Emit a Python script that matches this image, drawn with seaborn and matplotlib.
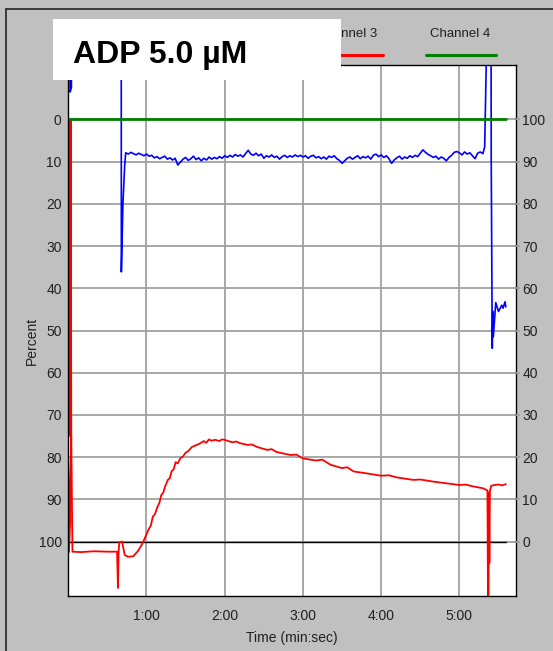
import numpy as np
import pandas as pd
import matplotlib
matplotlib.use("Agg")
import matplotlib.pyplot as plt
from matplotlib.lines import Line2D
from matplotlib.patches import Rectangle
import seaborn as sns

# Aggregometer trace, ADP 5.0 uM (time in seconds, value in "Percent" of left axis)
red_t = [0.9, 1.5, 2.1, 2.5, 0.8, 2.5, 3.4, 10, 20, 30, 37.6, 38.3, 38.8, 39.3, 41.4, 43.5,
         46, 50, 53.5, 57, 60, 62, 63.5, 65, 66.5, 68.7, 70, 71.5, 73, 74.5, 76.5, 78, 79.5,
         81, 82.5, 84.1, 86, 88, 90, 92, 95, 98, 101.6, 104, 106, 108, 110, 113, 116, 118,
         120, 126, 129, 132, 137.5, 141, 145, 152.8, 156, 160, 170.6, 175, 180, 190, 195,
         201.2, 210, 214, 219, 230, 240, 246, 252, 264.8, 270, 280, 290, 300, 305, 310,
         318.4, 321.5, 322.2, 322.6, 323.0, 323.4, 324.4, 327, 330, 333, 335.6]
red_v = [0, 75, 0, 75, 102.4, 75, 102.4, 102.5, 102.3, 102.4, 102.4, 111, 102.6, 100.2, 100,
         103.2, 103.6, 103.5, 102.3, 100.5, 98.4, 97.0, 96.2, 94.1, 93.6, 91.7, 90.9, 89.0,
         88.4, 86.9, 85.4, 85.0, 83.3, 82.9, 81.2, 81.5, 80.3, 79.9, 79.0, 78.6, 77.6, 77.2,
         76.7, 76.2, 76.6, 75.8, 76.1, 75.9, 76.2, 75.8, 75.9, 76.5, 76.3, 76.7, 77.1, 77.0,
         77.6, 78.3, 78.1, 78.8, 79.5, 79.4, 80.3, 80.8, 80.6, 81.8, 82.6, 82.4, 83.4, 83.9,
         84.4, 84.3, 84.8, 85.4, 85.3, 85.8, 86.2, 86.6, 86.5, 86.9, 87.4, 87.9, 130, 88.4,
         105, 88, 86.8, 86.6, 86.5, 86.7, 86.4]

blue_start_t = [1.2, 1.6, 2.6, 2.8, 40.8, 40.9, 42.1, 43.4]
blue_start_v = [-20, -6.5, -7.5, -20, -20, 36.1, 19.9, 11.2]
blue_plateau_v = [7.9, 8.2, 7.8, 8.1, 8.4, 8.0, 8.3, 8.6, 8.2, 8.7, 8.5, 9.1, 8.8, 9.3, 9.0,
                  8.7, 9.4, 9.1, 9.6, 9.2, 10.8, 10.1, 9.4, 9.0, 9.7, 9.3, 8.7, 9.5, 9.1, 9.8,
                  9.2, 9.6, 8.9, 9.4, 9.0, 9.3, 8.8, 9.2, 8.6, 9.0, 8.5, 8.9, 8.3, 8.7, 8.4,
                  8.9, 8.1, 7.3, 8.2, 8.5, 8.0, 8.6, 8.2, 9.2, 8.6, 8.9, 8.4, 9.0, 8.7, 9.4,
                  8.8, 8.5, 9.0, 8.6, 8.9, 8.4, 8.8, 8.5, 8.9, 8.6, 9.2, 8.7, 8.5, 9.1, 8.8,
                  9.3, 8.9, 9.4, 8.7, 9.0, 8.6, 9.3, 9.7, 10.4, 9.8, 9.2, 8.9, 9.4, 9.0, 8.6,
                  9.3, 8.8, 9.1, 8.7, 9.4, 8.5, 8.2, 8.8, 8.4, 9.0, 8.6, 9.3, 10.4, 9.6, 9.1,
                  8.7, 9.4, 8.9, 9.2, 8.6, 9.0, 8.5, 8.8, 8.0, 7.2, 7.8, 8.3, 8.6, 9.0, 8.7,
                  9.4, 8.9, 9.2, 9.8, 9.0, 8.5, 7.8, 7.6, 7.9, 8.4, 7.7, 8.2, 7.9, 8.6, 9.3,
                  8.0, 7.7, 8.1]
blue_end_t = [319.4, 321.0, 324.3, 324.4, 325.2, 325.6, 326.0, 327.9, 330.0, 332.5, 333.5,
              335.0, 335.6]
blue_end_v = [6.5, -20, -20, 8.9, 54.2, 45.5, 51.5, 43.4, 45.5, 44.0, 44.7, 43.2, 44.4]

green_t = [0, 335.6]
green_v = [0, 0]
baseline_t = [0, 335.6]
baseline_v = [100, 100]

x_ticks = [60, 120, 180, 240, 300]
x_labels = ["1:00", "2:00", "3:00", "4:00", "5:00"]
left_ticks = list(range(0, 101, 10))
right_labels = [str(100 - v) for v in left_ticks]

blue_t = blue_start_t + list(np.linspace(44.2, 318.0, len(blue_plateau_v))) + blue_end_t
blue_v = blue_start_v + blue_plateau_v + blue_end_v

red_df = pd.DataFrame({"t": red_t, "v": red_v})
blue_df = pd.DataFrame({"t": blue_t, "v": blue_v})
green_df = pd.DataFrame({"t": green_t, "v": green_v})
base_df = pd.DataFrame({"t": baseline_t, "v": baseline_v})

sns.set_style("white")
plt.rcParams["font.family"] = ["Liberation Sans", "DejaVu Sans"]

W, H = 553, 651
fig = plt.figure(figsize=(W / 100, H / 100), dpi=100, facecolor="#C0C0C0")
ax = fig.add_axes([68 / W, 1 - 596 / H, (516 - 68) / W, (596 - 65) / H])
ax.set_facecolor("white")

grid_c = "#A0A0A0"
for gx in x_ticks:
    ax.axvline(gx, color=grid_c, lw=1.3, zorder=0)
for gy in left_ticks:
    ax.axhline(gy, color=grid_c, lw=1.3, zorder=0)

sns.lineplot(data=base_df, x="t", y="v", ax=ax, color="black", lw=1.0, sort=False, estimator=None)
sns.lineplot(data=red_df, x="t", y="v", ax=ax, color="#FF0000", lw=1.3, sort=False, estimator=None)
sns.lineplot(data=blue_df, x="t", y="v", ax=ax, color="#0000FF", lw=1.2, sort=False, estimator=None)
sns.lineplot(data=green_df, x="t", y="v", ax=ax, color="#008000", lw=2.0, sort=False, estimator=None)

ax.set_xlim(0, 343.4)
ax.set_ylim(112.9, -12.9)
ax.set_xticks(x_ticks)
ax.set_xticklabels(x_labels)
ax.set_yticks(left_ticks)
ax.set_yticklabels([str(v) for v in left_ticks])
ax.tick_params(axis="x", length=0, pad=9, labelsize=10, colors="#202020")
ax.tick_params(axis="y", length=0, pad=4.5, labelsize=10, colors="#202020")
ax.set_xlabel("Time (min:sec)", fontsize=10, color="#202020")
ax.xaxis.set_label_coords(0.5, (596 - 638) / 531)
ax.xaxis.label.set_va("center")
ax.set_ylabel("Percent", fontsize=10, color="#202020")
ax.yaxis.set_label_coords((32 - 68) / 448, (596 - 341) / 531)
ax.yaxis.label.set_va("center")
for s in ax.spines.values():
    s.set_color("black")
    s.set_linewidth(1.0)

ax2 = ax.twinx()
ax2.set_ylim(-12.9, 112.9)
ax2.set_yticks(left_ticks)
ax2.set_yticklabels(right_labels[::-1])
ax2.tick_params(axis="y", length=3, width=1.3, color=grid_c, pad=1.5, labelsize=10,
                labelcolor="#202020")
for s in ax2.spines.values():
    s.set_visible(False)

# outer frame
fig.add_artist(Line2D([6 / W, 6 / W], [0, 1 - 8.5 / H], color="#303030", lw=1.3,
                      transform=fig.transFigure))
fig.add_artist(Line2D([6 / W, 1], [1 - 8.5 / H, 1 - 8.5 / H], color="#303030", lw=1.3,
                      transform=fig.transFigure))

# channel legend
fig.text(347 / W, 1 - 34 / H, "Channel 3", ha="center", va="center", fontsize=9.5,
         color="#202020", zorder=5)
fig.add_artist(Line2D([313 / W, 383 / W], [1 - 55 / H, 1 - 55 / H], color="#FF0000", lw=2.2,
                      transform=fig.transFigure, zorder=5))
fig.text(460 / W, 1 - 34 / H, "Channel 4", ha="center", va="center", fontsize=9.5,
         color="#202020", zorder=5)
fig.add_artist(Line2D([426 / W, 496 / W], [1 - 55 / H, 1 - 55 / H], color="#008000", lw=2.2,
                      transform=fig.transFigure, zorder=5))

# annotation box
fig.add_artist(Rectangle((53 / W, 1 - 80 / H), 288 / W, 61 / H, facecolor="white",
                         edgecolor="none", transform=fig.transFigure, zorder=10))
fig.text(73 / W, 1 - 63.5 / H, "ADP 5.0 µM", ha="left", va="baseline", fontsize=23,
         fontweight="bold", color="black", zorder=11)

fig.savefig("out.png", dpi=100, facecolor=fig.get_facecolor())
